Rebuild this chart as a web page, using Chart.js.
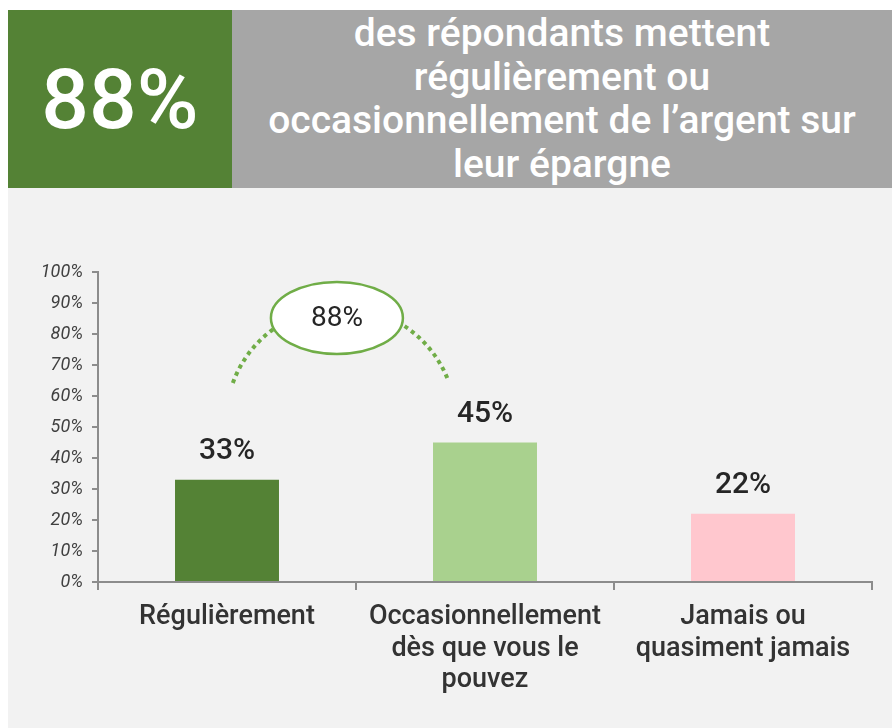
<!DOCTYPE html>
<html>
<head>
<meta charset="utf-8">
<script src="https://cdn.jsdelivr.net/npm/chart.js@4"></script>
<style>
  html, body { margin: 0; padding: 0; background: #fff; }
  body { width: 892px; height: 728px; position: relative; overflow: hidden; font-family: Roboto, "Noto Sans", sans-serif; }
  #big { position: absolute; left: 8px; top: 10px; width: 224px; height: 178px; background: #548235;
         color: #fff; font-size: 84px; font-weight: 500; display: flex; align-items: center; justify-content: center; }
  #head { position: absolute; left: 232px; top: 10px; width: 660px; height: 178px; background: #a6a6a6;
          color: #fff; font-size: 39px; font-weight: 500; line-height: 43.5px; text-align: center;
          display: flex; align-items: center; justify-content: center; }
  #panel { position: absolute; left: 8px; top: 188px; width: 884px; height: 540px; background: #f2f2f2; }
  #chart { position: absolute; left: 0; top: 0; }
</style>
</head>
<body>
<div id="big">88%</div>
<div id="head"><div>des répondants mettent<br>régulièrement ou<br>occasionnellement de l’argent sur<br>leur épargne</div></div>
<div id="panel"><canvas id="chart" width="884" height="540"></canvas></div>
<script>
const categories = [
  ["Régulièrement"],
  ["Occasionnellement", "dès que vous le", "pouvez"],
  ["Jamais ou", "quasiment jamais"],
];
const shares = [33, 45, 22];
const barColors = ["#548235", "#a9d18e", "#ffc7ce"];
const yTicks = [0, 10, 20, 30, 40, 50, 60, 70, 80, 90, 100];
const combinedShare = 88; // régulièrement + occasionnellement

// value labels above each bar
const valueLabels = {
  id: "valueLabels",
  afterDatasetsDraw(chart) {
    const ctx = chart.ctx;
    ctx.save();
    ctx.font = "500 30px Roboto";
    ctx.fillStyle = "#262626";
    ctx.textAlign = "center";
    ctx.textBaseline = "middle";
    chart.getDatasetMeta(0).data.forEach((bar, i) => {
      ctx.fillText(shares[i] + "%", bar.x, bar.y - 28);
    });
    ctx.restore();
  },
};

// dotted arc joining the first two bars, with the combined bubble on top
const bubble = {
  id: "bubble",
  afterDatasetsDraw(chart) {
    const { ctx, scales: { x, y } } = chart;
    ctx.save();
    ctx.strokeStyle = "#70ad47";
    ctx.lineWidth = 4;
    ctx.setLineDash([4, 4]);
    ctx.beginPath();
    ctx.arc(x.getPixelForValue(0.442), y.getPixelForValue(51.6), 115, -2.795, -0.392);
    ctx.stroke();
    ctx.setLineDash([]);

    const cx = x.getPixelForValue(0.426);
    const cy = y.getPixelForValue(85.2);
    ctx.beginPath();
    ctx.ellipse(cx, cy, 66, 36, 0, 0, Math.PI * 2);
    ctx.fillStyle = "#fff";
    ctx.fill();
    ctx.lineWidth = 2.5;
    ctx.stroke();

    ctx.font = "400 28px Roboto";
    ctx.fillStyle = "#262626";
    ctx.textAlign = "center";
    ctx.textBaseline = "middle";
    ctx.fillText(combinedShare + "%", cx, cy + 1);
    ctx.restore();
  },
};

new Chart(document.getElementById("chart"), {
  type: "bar",
  data: {
    labels: categories,
    datasets: [{
      data: shares,
      backgroundColor: barColors,
      barPercentage: 0.5,
      categoryPercentage: 0.806,
    }],
  },
  options: {
    responsive: false,
    animation: false,
    devicePixelRatio: 1,
    layout: { padding: { left: 0, top: 84, right: 20, bottom: 0 } },
    plugins: { legend: { display: false }, tooltip: { enabled: false } },
    scales: {
      y: {
        min: 0,
        max: 100,
        afterFit: s => { s.width = 90; },
        afterBuildTicks: s => { s.ticks = yTicks.map(v => ({ value: v })); },
        border: { color: "#8c8c8c", width: 2 },
        grid: { drawOnChartArea: false, tickLength: 6, color: "#8c8c8c", lineWidth: 2 },
        ticks: {
          padding: 9,
          color: "#404040",
          font: { family: "Roboto", size: 18, style: "italic" },
          callback: v => v + "%",
        },
      },
      x: {
        afterFit: s => { s.height = 146; },
        border: { color: "#8c8c8c", width: 2 },
        grid: { drawOnChartArea: false, offset: true, tickLength: 8, color: "#8c8c8c", lineWidth: 2 },
        ticks: {
          padding: 11,
          color: "#333333",
          maxRotation: 0,
          font: { family: "Roboto", size: 27, weight: "500", lineHeight: 1.18 },
        },
      },
    },
  },
  plugins: [valueLabels, bubble],
});
</script>
</body>
</html>
